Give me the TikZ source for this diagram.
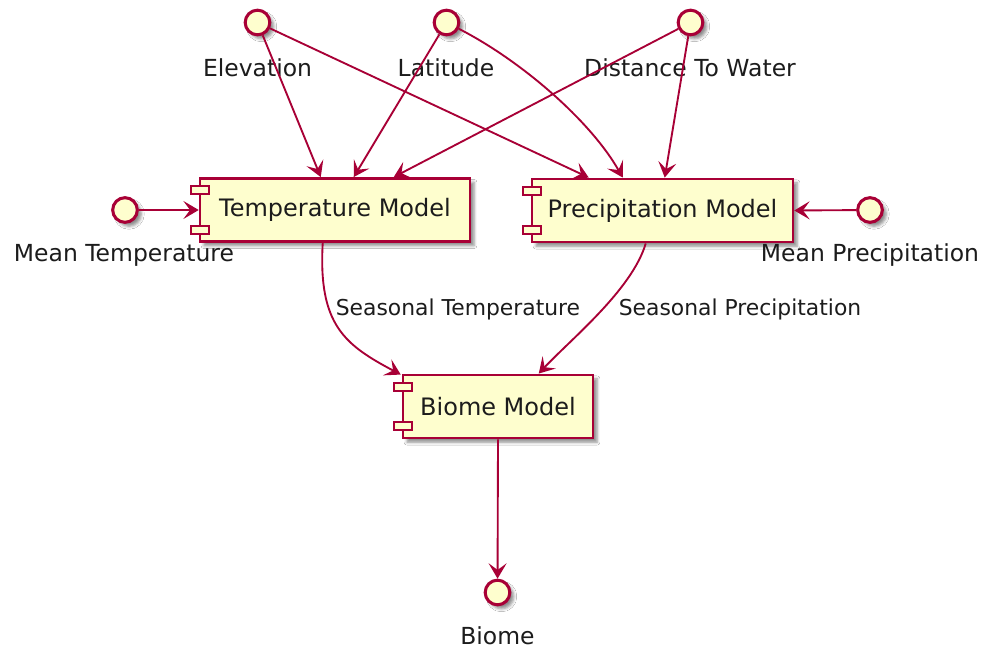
\documentclass[tikz,border=0pt]{standalone}
\usepackage{fontspec}
\setmainfont{DejaVu Sans}
\usetikzlibrary{arrows.meta,calc,shadows.blur}

\definecolor{umlred}{HTML}{A80036}
\definecolor{umlfill}{HTML}{FEFECE}
\definecolor{umltext}{HTML}{1C1C1C}

\tikzset{
  sh/.style={blur shadow={shadow xshift=3pt,shadow yshift=-3pt,shadow blur radius=2.2pt,shadow opacity=45}},
  comp/.style={draw=umlred, fill=umlfill, line width=1.9pt, inner sep=0pt,
    minimum height=47.5pt, text=umltext, font=\fontsize{18}{21}\selectfont, sh},
  tab/.style={draw=umlred, fill=umlfill, line width=1.5pt},
  iface/.style={circle, draw=umlred, fill=umlfill, line width=2.3pt,
    minimum size=18.5pt, inner sep=0pt, sh},
  ilabel/.style={font=\fontsize{17.6}{20}\selectfont, text=umltext, inner sep=0pt},
  elabel/.style={font=\fontsize{16.4}{19}\selectfont, text=umltext, inner sep=0pt},
  conn/.style={draw=umlred, line width=1.4pt,
    -{Stealth[length=11.5pt,width=13.5pt,inset=5pt]}},
}

\begin{document}
\begin{tikzpicture}[x=0.75pt,y=-0.75pt]
  \fill[white] (0,0) rectangle (982,649);
  \useasboundingbox (0,0) rectangle (982,649);

  % components
  \node[comp, minimum width=202.5pt] (tm) at (335,210) {Temperature Model};
  \node[comp, minimum width=195.75pt] (pm) at (662.5,210.5) {Precipitation Model};
  \node[comp, minimum width=142.5pt] (bm) at (498,406.5) {Biome Model};
  \foreach \n in {tm,pm,bm}{
    \draw[tab] ([xshift=-6pt,yshift=-6.75pt]\n.north west) rectangle ++(13.5pt,-6pt);
    \draw[tab] ([xshift=-6pt,yshift=6.75pt]\n.south west) rectangle ++(13.5pt,6pt);
  }

  % interfaces
  \node[iface] (elev) at (257.5,22.5) {};
  \node[iface] (lat) at (446.5,22.5) {};
  \node[iface] (dist) at (690.5,22.5) {};
  \node[iface] (mtemp) at (125,210) {};
  \node[iface] (mprec) at (870,210) {};
  \node[iface] (biome) at (497.5,592.5) {};

  \node[ilabel] (elevl) at (257.5,68) {Elevation};
  \node[ilabel] (latl) at (446,68) {Latitude};
  \node[ilabel] (distl) at (690,68) {Distance To Water};
  \node[ilabel] (mtempl) at (124,255) {Mean Temperature};
  \node[ilabel] (mprecl) at (870,255) {Mean Precipitation};
  \node[ilabel] (biomel) at (497.5,636) {Biome};

  % inputs to the temperature model
  \draw[conn] (elev) -- ($(tm.north west)+(122,0)$);
  \draw[conn] (lat) -- ($(tm.north west)+(155,0)$);
  \draw[conn] (dist) -- ($(tm.north west)+(195,0)$);
  \draw[conn] (mtemp) -- (tm.west);

  % inputs to the precipitation model
  \draw[conn] (elev) -- ($(pm.north west)+(58,0)$);
  \draw[conn] (lat) .. controls (520,60) and (590,120) .. ($(pm.north west)+(92,0)$);
  \draw[conn] (dist) -- ($(pm.north west)+(134,0)$);
  \draw[conn] (mprec) -- (pm.east);

  % seasonal outputs into the biome model
  \draw[conn] ($(tm.south west)+(124,0)$) .. controls (318,325) and (345,345) .. ($(bm.north west)+(-1,1)$);
  \draw[conn] ($(pm.south west)+(115,0)$) .. controls (632,290) and (570,340) .. ($(bm.north west)+(137,0)$);
  \node[elabel] (stl) at (458,309) {Seasonal Temperature};
  \node[elabel] (spl) at (740,309) {Seasonal Precipitation};

  % final output
  \draw[conn] (bm.south) -- (biome);
\end{tikzpicture}
\end{document}
